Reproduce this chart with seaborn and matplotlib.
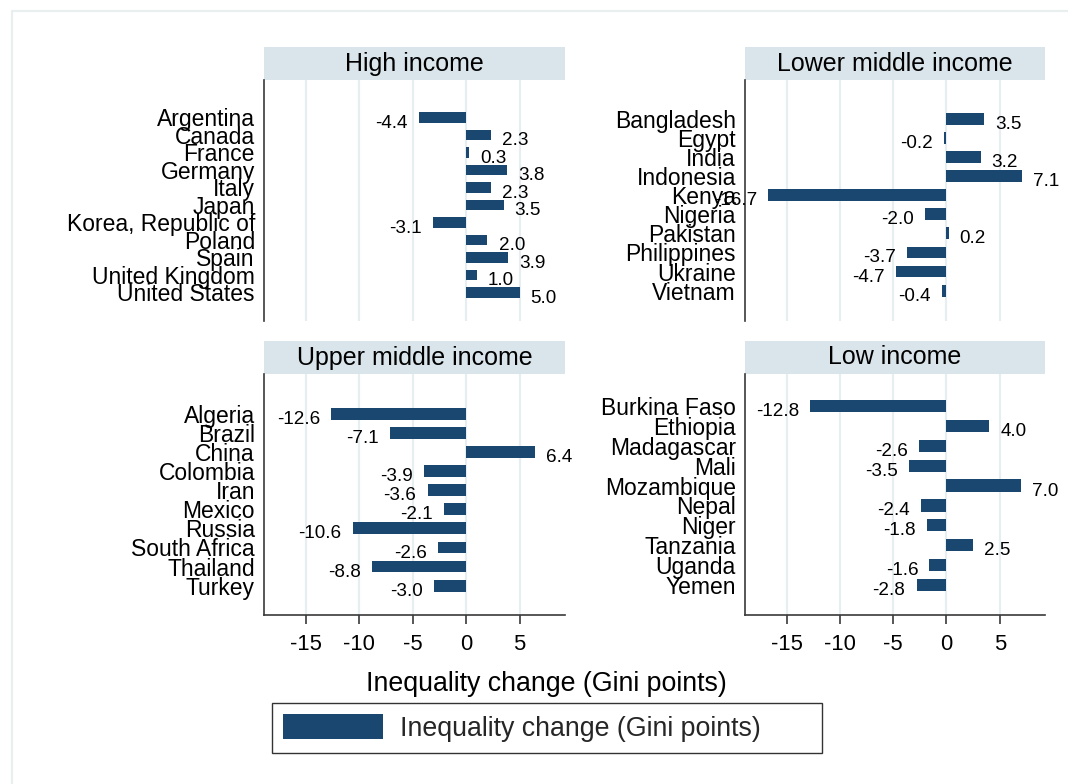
import matplotlib
matplotlib.use("Agg")
import matplotlib.pyplot as plt
from matplotlib.patches import Rectangle, Patch
import pandas as pd
import seaborn as sns

# Change in the Gini index by country, grouped by income level
high_countries = ["Argentina", "Canada", "France", "Germany", "Italy", "Japan",
                  "Korea, Republic of", "Poland", "Spain", "United Kingdom",
                  "United States"]
high_values = [-4.4, 2.3, 0.3, 3.8, 2.3, 3.5, -3.1, 2.0, 3.9, 1.0, 5.0]

lower_mid_countries = ["Bangladesh", "Egypt", "India", "Indonesia", "Kenya",
                       "Nigeria", "Pakistan", "Philippines", "Ukraine", "Vietnam"]
lower_mid_values = [3.5, -0.2, 3.2, 7.1, -16.7, -2.0, 0.2, -3.7, -4.7, -0.4]

upper_mid_countries = ["Algeria", "Brazil", "China", "Colombia", "Iran", "Mexico",
                       "Russia", "South Africa", "Thailand", "Turkey"]
upper_mid_values = [-12.6, -7.1, 6.4, -3.9, -3.6, -2.1, -10.6, -2.6, -8.8, -3.0]

low_countries = ["Burkina Faso", "Ethiopia", "Madagascar", "Mali", "Mozambique",
                 "Nepal", "Niger", "Tanzania", "Uganda", "Yemen"]
low_values = [-12.8, 4.0, -2.6, -3.5, 7.0, -2.4, -1.8, 2.5, -1.6, -2.8]

x_ticks = [-15, -10, -5, 0, 5]
measure = "Inequality change (Gini points)"

sns.set_theme(style="white")
plt.rcParams["font.family"] = ["Liberation Sans", "DejaVu Sans"]
plt.rcParams["axes.unicode_minus"] = False

BAR = "#1a476f"
GRID = "#e6eef1"
STRIP = "#d9e5eb"
SPINE = "#3a3a3a"

W, H = 1068, 784
fig = plt.figure(figsize=(W / 100, H / 100), dpi=100, facecolor="white")

# thin outer frame around the graph region
fig.patches.append(Rectangle((12 / W, -0.1), 1.2, 1.1 - 11 / H,
                             transform=fig.transFigure, facecolor="none",
                             edgecolor="#e9efef", lw=1.6, zorder=0))


def rect(left, top, right, bottom):
    return [left / W, (H - bottom) / H, (right - left) / W, (bottom - top) / H]


panels = [
    ("High income", high_countries, high_values,
     rect(264, 80, 565, 321), (11.63, -2.14), False),
    ("Lower middle income", lower_mid_countries, lower_mid_values,
     rect(745, 80, 1045, 321), (10.59, -2.03), False),
    ("Upper middle income", upper_mid_countries, upper_mid_values,
     rect(264, 374, 565, 615), (10.54, -2.09), True),
    ("Low income", low_countries, low_values,
     rect(745, 374, 1045, 615), (10.51, -1.61), True),
]

for title, countries, values, pos, ylim, show_x in panels:
    ax = fig.add_axes(pos)
    df = pd.DataFrame({"country": countries, "change": values})
    sns.barplot(data=df, x="change", y="country", orient="h", color=BAR,
                saturation=1, width=0.62, linewidth=0, ax=ax)
    ax.set_xlim(-18.9, 9.25)
    ax.set_ylim(*ylim)
    ax.set_axisbelow(True)
    ax.set_xticks(x_ticks)
    ax.xaxis.grid(True, color=GRID, lw=1.6)
    ax.yaxis.grid(False)
    ax.set_xlabel("")
    ax.set_ylabel("")
    ax.set_facecolor("white")

    for side in ("top", "right"):
        ax.spines[side].set_visible(False)
    ax.spines["left"].set_color(SPINE)
    ax.spines["left"].set_linewidth(1.2)
    if show_x:
        ax.spines["bottom"].set_color(SPINE)
        ax.spines["bottom"].set_linewidth(1.2)
        ax.tick_params(axis="x", bottom=True, length=6.5, width=1.2,
                       color=SPINE, pad=7, labelsize=15.8, labelcolor="black")
        ax.set_xticklabels([str(t) for t in x_ticks])
    else:
        ax.spines["bottom"].set_visible(False)
        ax.tick_params(axis="x", bottom=False, labelbottom=False)

    ax.tick_params(axis="y", left=False, length=0, pad=6.5, labelsize=16.5,
                   labelcolor="black")

    for i, v in enumerate(values):
        ax.annotate(f"{v:.1f}", xy=(v, i),
                    xytext=(8 if v >= 0 else -8, -4),
                    textcoords="offset points",
                    ha="left" if v >= 0 else "right", va="center",
                    fontsize=13.6, color="black", clip_on=False, zorder=5)

    # panel header strip
    strip_h = 33 / (pos[3] * H)
    ax.add_patch(Rectangle((0, 1), 1, strip_h, transform=ax.transAxes,
                           facecolor=STRIP, edgecolor="none", clip_on=False))
    ax.text(0.5, 1 + strip_h / 2, title, transform=ax.transAxes,
            ha="center", va="center", fontsize=18, color="black")

fig.text(546 / W, (H - 684) / H, measure, ha="center", va="center",
         fontsize=19.3, color="black")

leg = fig.legend(handles=[Patch(facecolor=BAR, edgecolor="none", label=measure)],
                 loc="center", bbox_to_anchor=(272 / W, (H - 752) / H,
                                               550 / W, 48 / H),
                 mode="expand", fontsize=19.3, frameon=True, fancybox=False,
                 edgecolor="black", handlelength=3.73, handleheight=1.05,
                 handletextpad=0.63, borderaxespad=0, borderpad=0.4)
leg.get_frame().set_linewidth(1.0)

fig.savefig("out.png", dpi=100, facecolor="white")
